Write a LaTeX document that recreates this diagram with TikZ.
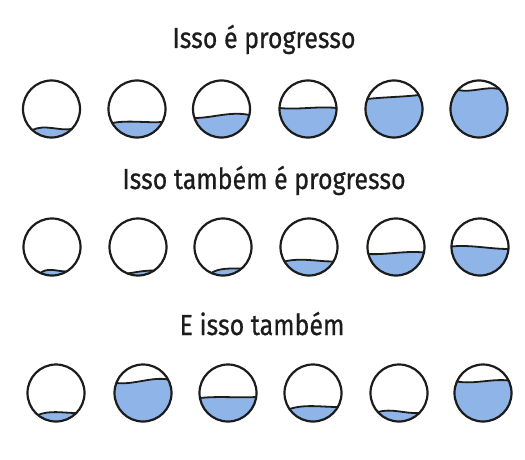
\documentclass[tikz,border=0pt]{standalone}
\usepackage{fontspec}
\setmainfont{Fira Sans}
\newfontfamily\titlefont{Fira Sans}[FakeBold=0.7]
\usepackage{graphicx}
\definecolor{water}{RGB}{143,181,232}
\definecolor{ink}{RGB}{28,28,28}
\tikzset{
  rim/.style={circle, draw=ink, line width=2.2pt, minimum size=57pt, inner sep=0pt},
  surf/.style={draw=ink, line width=1.8pt, line cap=round},
  title/.style={anchor=base, text=ink, font=\titlefont\fontsize{29}{32}\selectfont, inner sep=0pt}
}
\newcommand\jarR{28.5}
\newcommand\glass[7]{% #1 cx, #2 cy (px from top), #3 left h, #4 right h, #5 u1, #6 u2, #7 name
\begin{scope}[shift={(#1,459-#2)}]
\pgfmathsetmacro\angL{asin((#3)/\jarR)}
\pgfmathsetmacro\angR{asin((#4)/\jarR)}
\pgfmathsetmacro\xL{-sqrt(\jarR*\jarR-(#3)*(#3))}
\pgfmathsetmacro\xR{sqrt(\jarR*\jarR-(#4)*(#4))}
\pgfmathsetmacro\endA{-180-\angL}
\fill[water] (\xL,#3) .. controls ({\xL/3},{(#3)+(#5)}) and ({\xR/3},{(#4)+(#6)}) .. (\xR,#4)
   arc[start angle=\angR, end angle=\endA, radius=\jarR] -- cycle;
\draw[surf] (\xL,#3) .. controls ({\xL/3},{(#3)+(#5)}) and ({\xR/3},{(#4)+(#6)}) .. (\xR,#4);
\node[rim] (#7) at (0,0) {};
\end{scope}}
\begin{document}
\begin{tikzpicture}[x=1pt,y=1pt]
\useasboundingbox[fill=white] (0,0) rectangle (525,459);
\node[title] (t1) at (264,459-48) {\scalebox{0.86}[1]{Isso é progresso}};
\node[title] (t2) at (264,459-189) {\scalebox{0.86}[1]{Isso também é progresso}};
\node[title] (t3) at (262,459-335) {\scalebox{0.86}[1]{E isso também}};
% row 1
\glass{51.5}{109}{-21}{-20}{6}{-2}{a1}
\glass{137}{109}{-14}{-13}{3}{-1}{a2}
\glass{221.5}{109}{-9}{-6}{0}{4}{a3}
\glass{308}{109}{1}{1}{-2}{2}{a4}
\glass{394}{109}{10}{14}{2}{-2}{a5}
\glass{479}{109}{19}{20}{-3}{3}{a6}
% row 2
\glass{52}{247}{-26}{-24.5}{6}{0}{b1}
\glass{138}{247}{-26.5}{-23.5}{1}{0}{b2}
\glass{223}{247}{-26}{-21.5}{5}{0}{b3}
\glass{309}{247}{-14.5}{-14.5}{4}{0}{b4}
\glass{396}{247}{-7}{-5.5}{-1}{2}{b5}
\glass{480}{247}{0.5}{-2}{2}{0}{b6}
% row 3
\glass{56}{393}{-22}{-20}{5}{0}{c1}
\glass{143}{393}{10}{13.5}{-2}{3}{c2}
\glass{228}{393}{-5}{-4}{2}{-1}{c3}
\glass{313}{393}{-16}{-14}{5}{0}{c4}
\glass{399}{393}{-19}{-20}{4}{-1}{c5}
\glass{483}{393}{11.5}{12.5}{-3}{2}{c6}
\end{tikzpicture}
\end{document}
